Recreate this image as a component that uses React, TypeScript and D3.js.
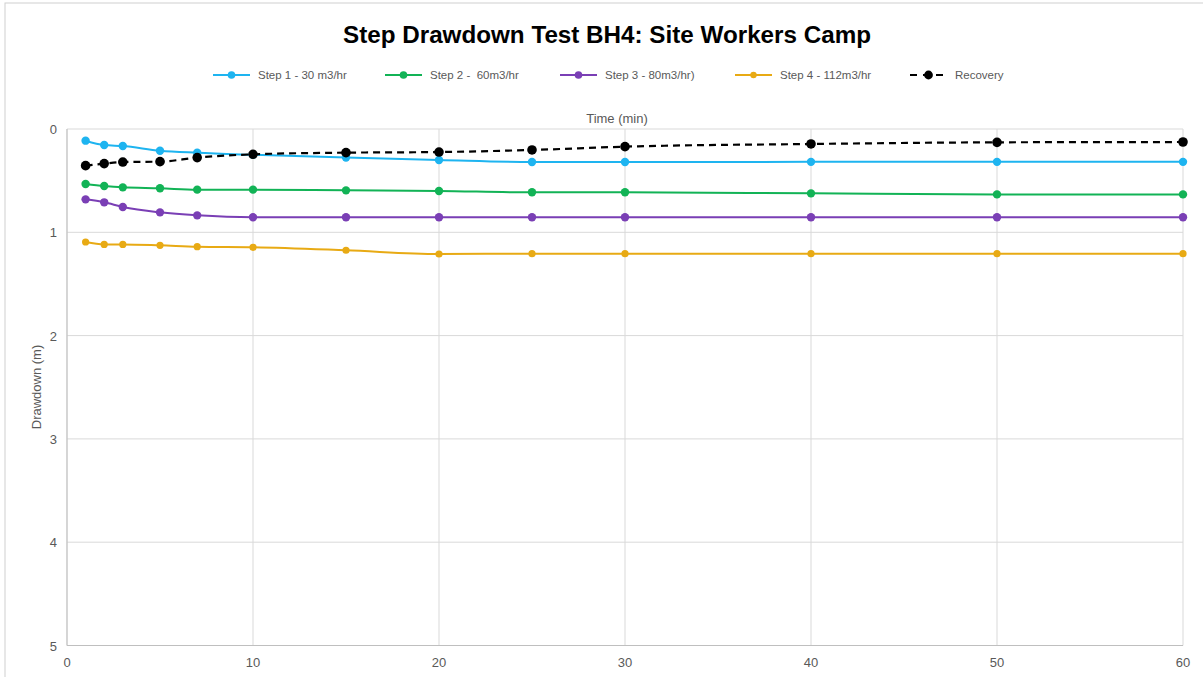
import React from "react";
import * as d3 from "d3";

const times = [1, 2, 3, 5, 7, 10, 15, 20, 25, 30, 40, 50, 60];
const step1 = [0.113, 0.155, 0.165, 0.21, 0.23, 0.25, 0.277, 0.3, 0.32, 0.32, 0.318, 0.318, 0.318];
const step2 = [0.532, 0.552, 0.565, 0.574, 0.587, 0.587, 0.594, 0.6, 0.613, 0.613, 0.623, 0.633, 0.633];
const step3 = [0.681, 0.71, 0.755, 0.807, 0.836, 0.855, 0.855, 0.855, 0.855, 0.855, 0.855, 0.855, 0.855];
const step4 = [1.094, 1.117, 1.117, 1.126, 1.139, 1.145, 1.174, 1.21, 1.207, 1.207, 1.207, 1.207, 1.207];
const recovery = [0.355, 0.335, 0.32, 0.316, 0.277, 0.245, 0.229, 0.223, 0.203, 0.171, 0.145, 0.129, 0.126];

const xTicks = [0, 10, 20, 30, 40, 50, 60];
const yTicks = [0, 1, 2, 3, 4, 5];

const seriesNames = ["Step 1 - 30 m3/hr", "Step 2 -  60m3/hr", "Step 3 - 80m3/hr)", "Step 4 - 112m3/hr", "Recovery"];
const seriesValues = [step1, step2, step3, step4, recovery];
const seriesColors = ["#1EB4F0", "#12B356", "#7A3FB5", "#E8AA14", "#000000"];
const seriesRadius = [4.2, 4.2, 4.2, 3.6, 4.8];
const seriesDash = ["", "", "", "", "7,5"];
const legendX = [213, 385, 560, 735, 910];

export default function App() {
  const W = 1203, H = 677;
  const x = d3.scaleLinear().domain([0, 60]).range([67, 1183]);
  const y = d3.scaleLinear().domain([0, 5]).range([129, 645.5]);
  const font = "'Liberation Sans', Arial, sans-serif";
  const gray = "#595959";
  const grid = "#d9d9d9";

  const line = d3
    .line<number>()
    .x((_, i) => x(times[i]))
    .y((v) => y(v))
    .curve(d3.curveMonotoneX);

  return (
    <svg width={W} height={H} style={{ position: "absolute", left: 0, top: 0, background: "#fff" }}>
      <rect x={5} y={3} width={1210} height={690} fill="#fff" stroke="#d0d0d0" strokeWidth={1} />
      <text
        x={607}
        y={43}
        textAnchor="middle"
        fontFamily={font}
        fontWeight="bold"
        fontSize={23}
        fill="#000"
        textLength={528}
        lengthAdjust="spacingAndGlyphs"
      >
        Step Drawdown Test BH4: Site Workers Camp
      </text>

      {/* legend */}
      {seriesNames.map((n, i) => (
        <g key={n}>
          <line
            x1={legendX[i]}
            x2={legendX[i] + 37}
            y1={75}
            y2={75}
            stroke={seriesColors[i]}
            strokeWidth={2.2}
            strokeDasharray={i === 4 ? "7,6" : undefined}
          />
          <circle cx={legendX[i] + 18.5} cy={75} r={seriesRadius[i] - 0.4} fill={seriesColors[i]} />
          <text
            x={legendX[i] + 45}
            y={79}
            fontFamily={font}
            fontSize={11.5}
            fill={gray}
            style={{ whiteSpace: "pre" }}
          >
            {n}
          </text>
        </g>
      ))}

      {/* grid */}
      {xTicks.map((t) => (
        <line key={"gx" + t} x1={x(t)} x2={x(t)} y1={y(0)} y2={y(5)} stroke={grid} strokeWidth={1} />
      ))}
      {yTicks.map((t) => (
        <line key={"gy" + t} x1={x(0)} x2={x(60)} y1={y(t)} y2={y(t)} stroke={grid} strokeWidth={1} />
      ))}
      <line x1={x(0)} x2={x(0)} y1={y(0)} y2={y(5)} stroke="#bfbfbf" strokeWidth={1} />
      <line x1={x(0)} x2={x(60)} y1={y(5)} y2={y(5)} stroke="#bfbfbf" strokeWidth={1} />

      {/* tick labels */}
      {yTicks.map((t) => (
        <text key={"ty" + t} x={57} y={y(t) + 5} textAnchor="end" fontFamily={font} fontSize={13} fill={gray}>
          {t}
        </text>
      ))}
      {xTicks.map((t) => (
        <text key={"tx" + t} x={x(t)} y={667} textAnchor="middle" fontFamily={font} fontSize={13} fill={gray}>
          {t}
        </text>
      ))}

      <text x={617} y={123} textAnchor="middle" fontFamily={font} fontSize={13} fill={gray}>
        Time (min)
      </text>
      <text
        transform={`translate(41,${387}) rotate(-90)`}
        textAnchor="middle"
        fontFamily={font}
        fontSize={13}
        fill={gray}
      >
        Drawdown (m)
      </text>

      {/* series */}
      {seriesValues.map((vals, si) => (
        <g key={"s" + si}>
          <path
            d={line(vals) || ""}
            fill="none"
            stroke={seriesColors[si]}
            strokeWidth={si === 4 ? 2.2 : 2}
            strokeDasharray={seriesDash[si] || undefined}
          />
          {vals.map((v, i) => (
            <circle key={i} cx={x(times[i])} cy={y(v)} r={seriesRadius[si]} fill={seriesColors[si]} />
          ))}
        </g>
      ))}
    </svg>
  );
}
